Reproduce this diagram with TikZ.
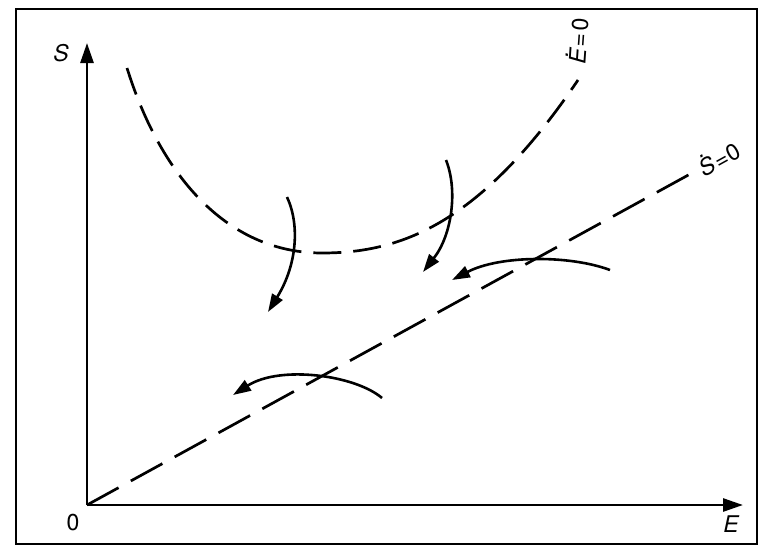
\documentclass[tikz,border=0pt]{standalone}
\usepackage{fontspec}
\setmainfont{TeX Gyre Heros}
\usetikzlibrary{arrows.meta}
\newcommand\dotover[1]{\leavevmode\setbox0\hbox{#1}\rlap{\hbox to\wd0{\hss\raisebox{\ht0}{\raisebox{1pt}{\kern2pt.}}\hss}}#1}
\begin{document}
\begin{tikzpicture}[x=1pt,y=-1pt,
  axis/.style={line width=2.7pt,-{Triangle[length=20pt,width=13pt]}},
  flow/.style={line width=2.6pt,-{Triangle[length=18pt,width=12pt]}},
  nullc/.style={line width=2.7pt,dash pattern=on 28pt off 12pt},
  nulls/.style={line width=2.7pt,dash pattern=on 36pt off 14pt},
  lab/.style={font=\fontsize{23}{26}\selectfont, inner sep=0pt}]
\useasboundingbox (0,0) rectangle (763,546);
\draw[line width=2.5pt] (16,9) rectangle (757,544);
% axes
\coordinate (O) at (87,505);
\coordinate (Stop) at (87,43);
\coordinate (Eend) at (743,505);
\draw[axis] (O) -- (Stop);
\draw[axis] (O) -- (Eend);
\node[lab] (s) at (61,53) {\itshape S};
\node[lab] (e) at (731,524) {\itshape E};
\node[lab] (o) at (73,523) {0};
% S-dot = 0 line
\coordinate (Send) at (692,173);
\draw[nulls] (O) -- (Send);
\node[lab,rotate=29] (sl) at (719,158) {\itshape\dotover{S}\kern1pt\upshape=\kern1pt0};
% E-dot = 0 curve
\coordinate (c0) at (127,68);
\coordinate (cm) at (322,253);
\coordinate (c9) at (578,80);
\draw[nullc] (c0) .. controls (162,180) and (230,253) .. (cm)
             .. controls (400,253) and (480,225) .. (c9);
\node[lab,rotate=86] (el) at (577,41) {\itshape\dotover{E}\kern2pt\upshape=\kern2pt0};
% flow arrows
\coordinate (a1) at (287,197); \coordinate (a2) at (268,312);
\coordinate (b1) at (446,160); \coordinate (b2) at (423,272);
\coordinate (c1) at (610,270); \coordinate (c2) at (452,280);
\coordinate (d1) at (382,398); \coordinate (d2) at (233,395);
\draw[flow] (a1) .. controls (300,225) and (297,265) .. (a2);
\draw[flow] (b1) .. controls (458,190) and (452,235) .. (b2);
\draw[flow] (c1) .. controls (570,255) and (500,255) .. (c2);
\draw[flow] (d1) .. controls (355,375) and (280,365) .. (d2);
\end{tikzpicture}
\end{document}
